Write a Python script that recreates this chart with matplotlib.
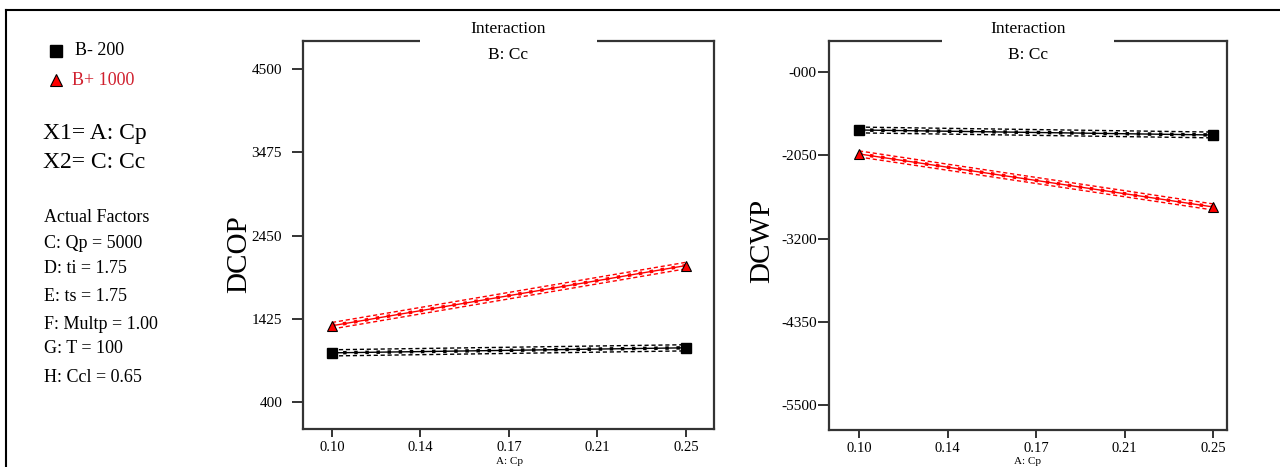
import numpy as np
import matplotlib.pyplot as plt
from matplotlib.patches import Rectangle
from matplotlib.lines import Line2D

plt.rcParams['font.family'] = ['Liberation Serif', 'DejaVu Serif']

# A: Cp levels and predicted responses at B- / B+
cp = [0.10, 0.25]
dcop_low = [1005, 1067]
dcop_high = [1339, 2080]
dcwp_low = [-1701, -1770]
dcwp_high = [-2032, -2764]
# half width of the LSD bands
dcop_band_low = [38, 38]
dcop_band_high = [40, 40]
dcwp_band_low = [40, 40]
dcwp_band_high = [42, 42]

xticks = [0.10, 0.1375, 0.175, 0.2125, 0.25]
xticklabels = ['0.10', '0.14', '0.17', '0.21', '0.25']
dcop_ticks = [400, 1425, 2450, 3475, 4500]
dcop_labels = ['400', '1425', '2450', '3475', '4500']
dcwp_ticks = [-5500, -4350, -3200, -2050, -900]
dcwp_labels = ['-5500', '-4350', '-3200', '-2050', '-000']

factors = ['C: Qp = 5000', 'D: ti = 1.75', 'E: ts = 1.75',
           'F: Multp = 1.00', 'G: T = 100', 'H: Ccl = 0.65']

W, H = 1280, 467
fig = plt.figure(figsize=(12.8, 4.67), dpi=100)


def fx(px):
    return px / W


def fy(py):
    return 1 - py / H


def series(ax, y, band, color, marker):
    x = np.array(cp)
    y = np.array(y)
    band = np.array(band)
    ax.plot(x, y + band, color=color, lw=1, ls=(0, (3, 2)), zorder=3)
    ax.plot(x, y - band, color=color, lw=1, ls=(0, (3, 2)), zorder=3)
    ax.plot(x, y, color=color, lw=1, zorder=3)
    ax.plot(x, y, color=color, lw=2.5, ls=(0, (1, 2.2)), zorder=3)
    if marker == 's':
        ax.plot(x, y, 's', color='black', ms=7, zorder=4)
    else:
        ax.plot(x, y, '^', mfc='red', mec='black', mew=0.8, ms=7, zorder=4)


def panel(rect, xlim, ylim, yticks, ylabels, ylabel, ylab_pos, gap, low, blow, high, bhigh, xlab_x):
    ax = fig.add_axes(rect)
    ax.set_xlim(*xlim)
    ax.set_ylim(*ylim)
    ax.set_xticks(xticks)
    ax.set_xticklabels(xticklabels)
    ax.set_yticks(yticks)
    ax.set_yticklabels(ylabels)
    for s in ax.spines.values():
        s.set_linewidth(1.6)
        s.set_color('#333333')
    ax.tick_params(axis='x', length=6, width=1.4, pad=2.5, labelsize=10.5, color='#333333')
    ax.tick_params(axis='y', length=8, width=1.4, pad=gap, labelsize=11, color='#333333')
    series(ax, low, blow, 'black', 's')
    series(ax, high, bhigh, 'red', '^')
    ax.set_ylabel(ylabel, fontsize=21)
    ax.yaxis.set_label_coords(*ylab_pos)
    # break in the top frame behind the title
    ax.add_patch(Rectangle((0.5 - 0.215, 0.985), 0.43, 0.03, transform=ax.transAxes,
                           facecolor='white', edgecolor='none', clip_on=False, zorder=5))
    ax.text(0.5, 1.031, 'Interaction', transform=ax.transAxes, ha='center', va='center',
            fontsize=12.5, zorder=6)
    ax.text(0.5, 0.964, 'B: Cc', transform=ax.transAxes, ha='center', va='center',
            fontsize=12.5)
    fig.text(fx(xlab_x), fy(466.5), 'A: Cp', ha='center', va='bottom', fontsize=8)
    return ax


panel([fx(303), fy(429), fx(714 - 303), (429 - 41) / H], (0.0877, 0.2619), (67, 4846),
      dcop_ticks, dcop_labels, 'DCOP', (-0.124, 0.45), 7,
      dcop_low, dcop_band_low, dcop_high, dcop_band_high, 509)
panel([fx(829), fy(430), fx(1227 - 829), (430 - 41) / H], (0.0873, 0.2559), (-5845, -472),
      dcwp_ticks, dcwp_labels, 'DCWP', (-0.135, 0.485), 1,
      dcwp_low, dcwp_band_low, dcwp_high, dcwp_band_high, 1028)

# legend and factor notes on the left
fig.add_artist(Line2D([fx(56)], [fy(51)], marker='s', color='black', ms=8, ls='none'))
fig.add_artist(Line2D([fx(56)], [fy(80)], marker='^', mfc='red', mec='black', mew=0.8,
                      ms=9, ls='none'))
fig.text(fx(75), fy(55), 'B- 200', fontsize=13, va='baseline')
fig.text(fx(72), fy(85), 'B+ 1000', fontsize=13, va='baseline', color='#d0202e')
fig.text(fx(43), fy(139), 'X1= A: Cp', fontsize=17, va='baseline')
fig.text(fx(43), fy(168), 'X2= C: Cc', fontsize=17, va='baseline')
fig.text(fx(44), fy(222), 'Actual Factors', fontsize=13, va='baseline')
baselines = [248, 273, 301, 329, 353, 382]
for txt, b in zip(factors, baselines):
    fig.text(fx(44), fy(b), txt, fontsize=13, va='baseline')

# outer frame (top and left edges)
fig.add_artist(Line2D([fx(6), 1], [fy(10), fy(10)], color='black', lw=1.5))
fig.add_artist(Line2D([fx(6), fx(6)], [fy(10), 0], color='black', lw=1.5))

fig.savefig('out.png', dpi=100)
